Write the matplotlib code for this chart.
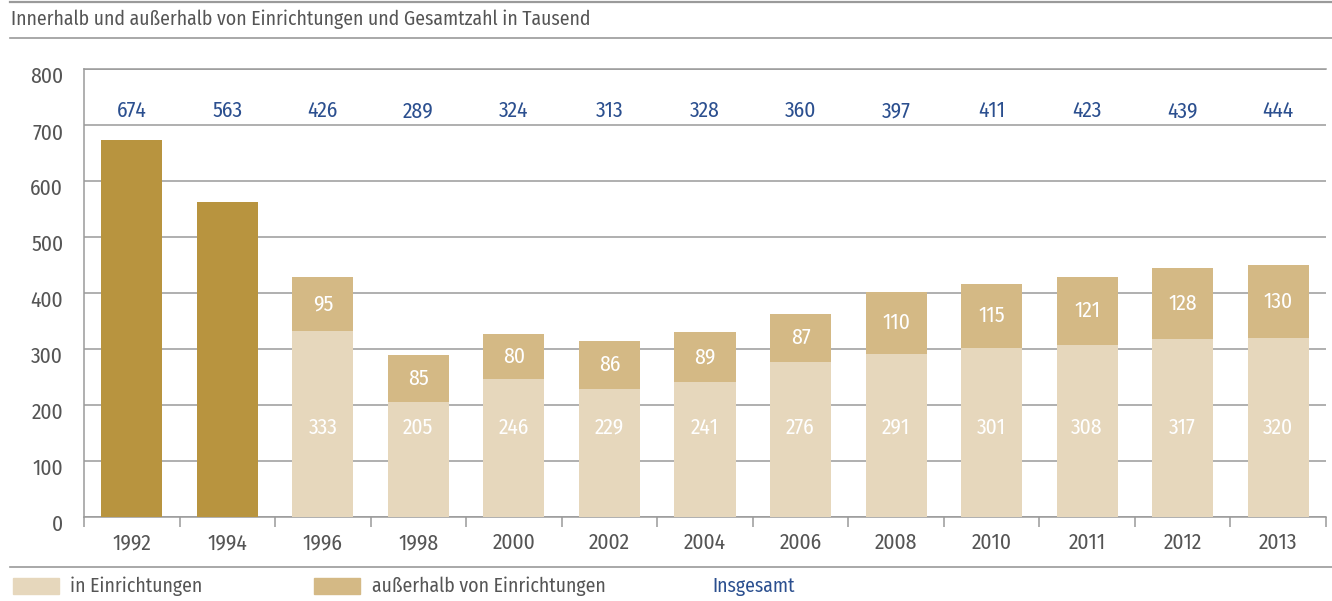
import numpy as np
import matplotlib.pyplot as plt
import matplotlib.transforms as mtransforms
from matplotlib.lines import Line2D

plt.rcParams['font.family'] = ['Fira Sans Condensed', 'PT Sans Narrow', 'Roboto Condensed',
                               'DejaVu Sans']

years = ['1992', '1994', '1996', '1998', '2000', '2002', '2004', '2006',
         '2008', '2010', '2011', '2012', '2013']
# only totals known for 1992/1994
total_only = [674, 563]
inside = [333, 205, 246, 229, 241, 276, 291, 301, 308, 317, 320]
outside = [95, 85, 80, 86, 89, 87, 110, 115, 121, 128, 130]
totals = [674, 563, 426, 289, 324, 313, 328, 360, 397, 411, 423, 439, 444]

c_dark = '#B8943F'
c_light = '#E6D7BC'
c_mid = '#D4B985'
c_blue = '#2B4F8F'
c_text = '#555555'
c_grid = '#9A9A9A'
fs = 14.2   # words
fn = 15.5   # numbers

fig = plt.figure(figsize=(13.32, 6.01), dpi=100)
ax = fig.add_axes([84/1332, 1 - 517/601, (1326 - 84)/1332, (517 - 69)/601])

x = np.arange(len(years))
w = 0.64
ax.bar(x[:2], total_only, width=w, color=c_dark, zorder=3)
ax.bar(x[2:], inside, width=w, color=c_light, zorder=3)
ax.bar(x[2:], outside, width=w, bottom=inside, color=c_mid, zorder=3)

for xi, v in zip(x[2:], inside):
    ax.text(xi, 160, str(v), ha='center', va='center', color='white', fontsize=fn, zorder=4)
for xi, b, v in zip(x[2:], inside, outside):
    ax.text(xi, b + v / 2, str(v), ha='center', va='center', color='white', fontsize=fn, zorder=4)
for xi, t in zip(x, totals):
    ax.text(xi, 725, str(t), ha='center', va='center', color=c_blue, fontsize=fn)

ax.set_xlim(-0.5, 12.5)
ax.set_ylim(0, 800)
ax.set_yticks(range(0, 801, 100))
ax.yaxis.grid(True, color=c_grid, lw=1.1, zorder=0)
ax.tick_params(axis='y', length=0, pad=15, labelsize=fn, labelcolor=c_text)
offset = mtransforms.ScaledTranslation(0, -6/100, fig.dpi_scale_trans)
for lab in ax.get_yticklabels():
    lab.set_transform(lab.get_transform() + offset)

ax.set_xticks(np.arange(-0.5, 12.6, 1))
ax.set_xticklabels([])
ax.set_xticks(x, minor=True)
ax.set_xticklabels(years, minor=True)
ax.tick_params(axis='x', which='major', length=7.5, width=1.1, color=c_grid, direction='out')
ax.tick_params(axis='x', which='minor', length=0, pad=11, labelsize=fn, labelcolor=c_text)

ax.spines['right'].set_visible(False)
for s in ['left', 'bottom', 'top']:
    ax.spines[s].set_color(c_grid)
    ax.spines[s].set_linewidth(1.1)

# header / footer rules
fig.add_artist(Line2D([10/1332, 1], [1 - 1.5/601] * 2, color=c_grid, lw=1.6))
fig.add_artist(Line2D([10/1332, 1], [1 - 38/601] * 2, color=c_grid, lw=1.2))
fig.add_artist(Line2D([10/1332, 1], [1 - 567/601] * 2, color=c_grid, lw=1.2))
fig.text(11/1332, 1 - 19/601, 'Innerhalb und außerhalb von Einrichtungen und Gesamtzahl in Tausend',
         ha='left', va='center', fontsize=fs, color=c_text)

# legend
for sx, col, lab, tx in [(13, c_light, 'in Einrichtungen', 70),
                         (314, c_mid, 'außerhalb von Einrichtungen', 372)]:
    fig.patches.append(plt.Rectangle((sx/1332, 1 - 594/601), 46/1332, 16/601,
                                     transform=fig.transFigure, color=col))
    fig.text(tx/1332, 1 - 586/601, lab, ha='left', va='center', fontsize=fs, color=c_text)
fig.text(712/1332, 1 - 586/601, 'Insgesamt', ha='left', va='center', fontsize=fs, color=c_blue)

fig.savefig('out.png', dpi=100)
